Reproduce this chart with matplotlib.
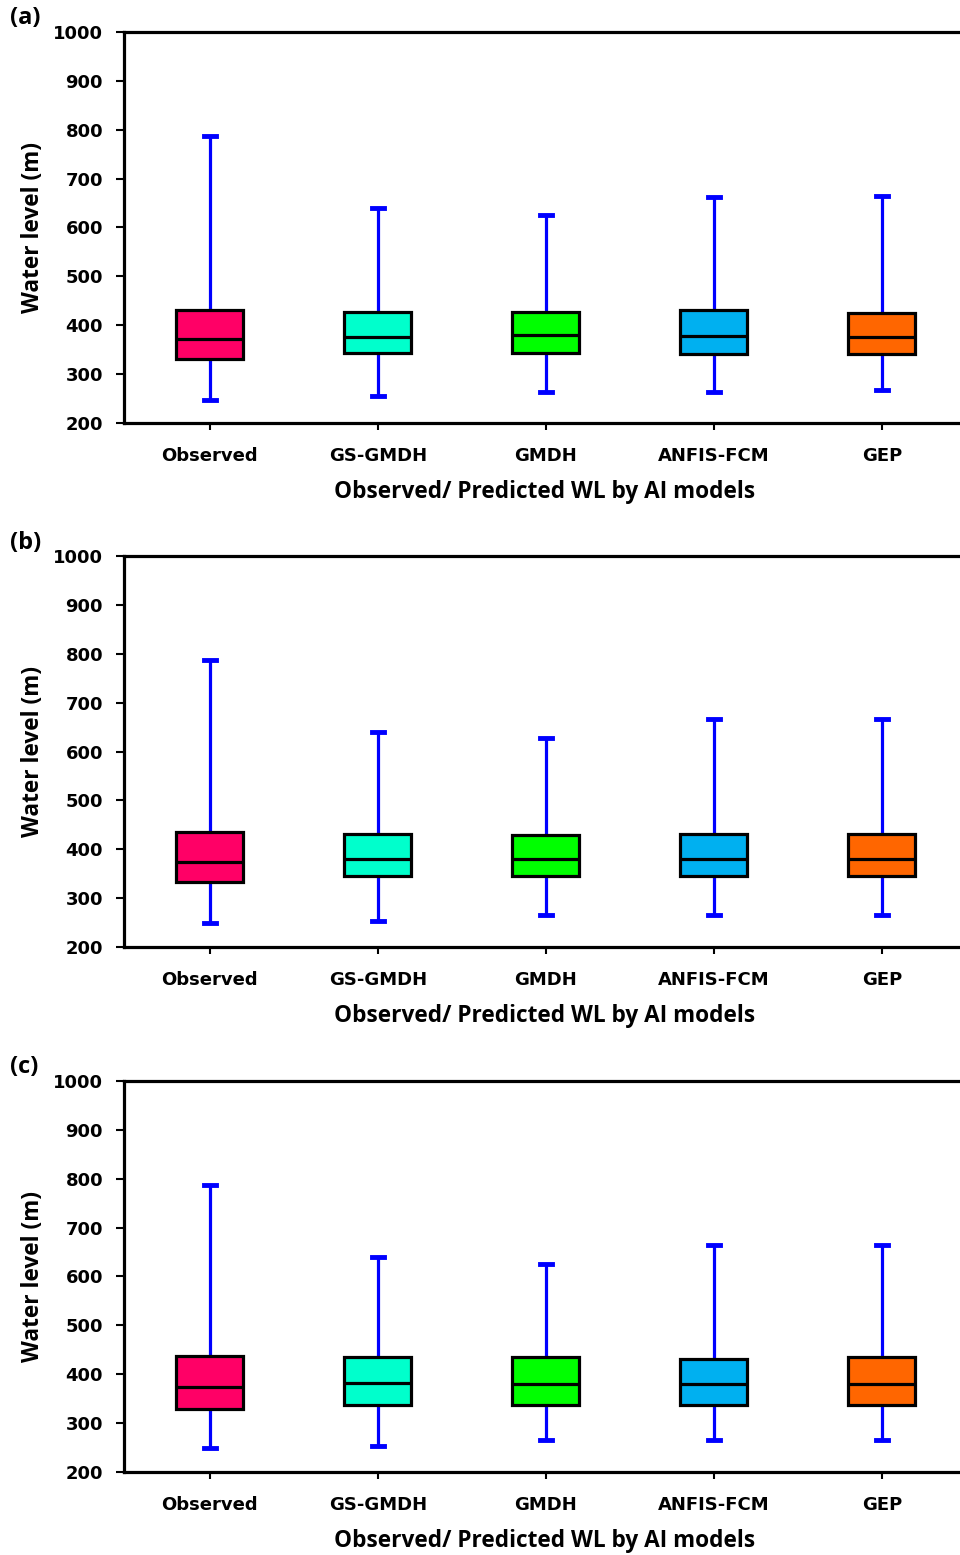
import matplotlib
matplotlib.use("Agg")
import matplotlib.pyplot as plt

models = ["Observed", "GS-GMDH", "GMDH", "ANFIS-FCM", "GEP"]
colors = ["#ff0066", "#00ffcc", "#00ff00", "#00b0f0", "#ff6600"]
panels = ["(a)", "(b)", "(c)"]

# whisker low, q1, median, q3, whisker high for each panel
lo_a = [247, 256, 264, 264, 267]
q1_a = [331, 343, 343, 341, 341]
med_a = [372, 376, 380, 377, 376]
q3_a = [431, 428, 427, 431, 425]
hi_a = [787, 639, 626, 662, 665]

lo_b = [249, 254, 266, 266, 266]
q1_b = [334, 345, 345, 345, 345]
med_b = [374, 381, 381, 381, 381]
q3_b = [435, 432, 429, 432, 432]
hi_b = [787, 640, 628, 666, 666]

lo_c = [250, 254, 266, 266, 266]
q1_c = [329, 337, 337, 337, 337]
med_c = [374, 383, 381, 380, 380]
q3_c = [437, 435, 435, 432, 435]
hi_c = [787, 640, 626, 665, 665]

data = [(lo_a, q1_a, med_a, q3_a, hi_a),
        (lo_b, q1_b, med_b, q3_b, hi_b),
        (lo_c, q1_c, med_c, q3_c, hi_c)]

yticks = [200, 300, 400, 500, 600, 700, 800, 900, 1000]

fig = plt.figure(figsize=(9.6, 15.55), dpi=100)
bottoms = [0.728, 0.391, 0.0534]
lab_font = ["Open Sans", "DejaVu Sans"]

for i, (lo, q1, med, q3, hi) in enumerate(data):
    ax = fig.add_axes([0.129, bottoms[i], 0.877, 0.2514])
    stats = []
    for j in range(len(models)):
        stats.append({"whislo": lo[j], "q1": q1[j], "med": med[j],
                      "q3": q3[j], "whishi": hi[j], "fliers": []})
    bp = ax.bxp(stats, positions=range(1, 6), widths=0.4, patch_artist=True,
                showfliers=False, capwidths=0.07,
                boxprops=dict(edgecolor="black", linewidth=2.3),
                medianprops=dict(color="black", linewidth=2.3),
                whiskerprops=dict(color="#0000ff", linewidth=2.3),
                capprops=dict(color="#0000ff", linewidth=3.5))
    for patch, c in zip(bp["boxes"], colors):
        patch.set_facecolor(c)
        patch.set_zorder(3)
    for m in bp["medians"]:
        m.set_zorder(4)

    ax.set_xlim(0.488, 5.5)
    ax.set_ylim(200, 1000)
    ax.set_yticks(yticks)
    ax.set_xticks(range(1, 6))
    ax.set_xticklabels(models)
    for lab in ax.get_yticklabels() + ax.get_xticklabels():
        lab.set_fontweight("bold")
        lab.set_fontsize(13)
        lab.set_family("DejaVu Sans")
    ax.tick_params(axis="y", direction="out", length=6, width=1.5, pad=9)
    ax.tick_params(axis="x", direction="out", length=5, width=1.5, pad=12)
    for s in ["left", "bottom", "top"]:
        ax.spines[s].set_linewidth(2.3)
    ax.spines["right"].set_visible(False)

    ax.set_xlabel("Observed/ Predicted WL by AI models", family=lab_font,
                  fontsize=16.3, fontweight="bold", labelpad=11)
    ax.set_ylabel("Water level (m)", family=lab_font, fontsize=16.3,
                  fontweight="bold", labelpad=6)
    fig.text(0.010, bottoms[i] + 0.2514 + 0.001, panels[i], family=lab_font,
             fontsize=17, fontweight="bold", va="bottom", ha="left")

fig.savefig("out.png", dpi=100)
